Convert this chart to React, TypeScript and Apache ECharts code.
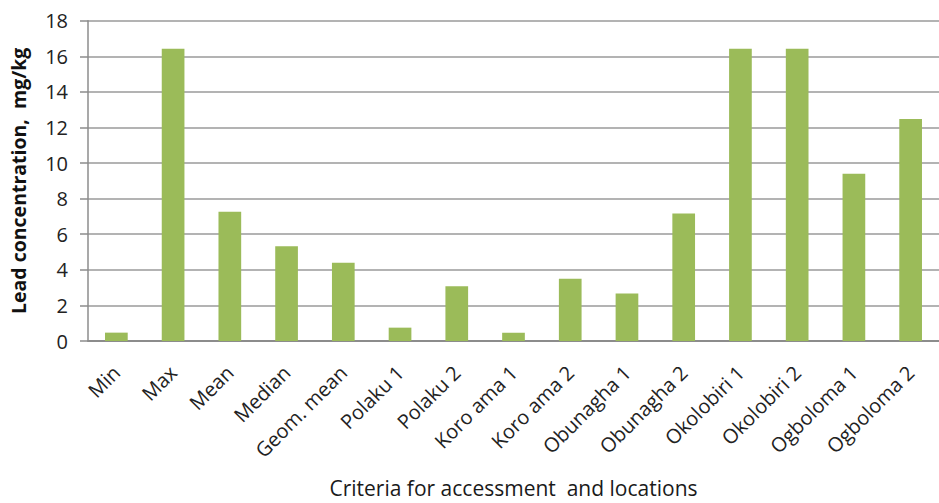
import React, { useEffect, useRef } from "react";
import * as echarts from "echarts";

const categories = [
  "Min",
  "Max",
  "Mean",
  "Median",
  "Geom. mean",
  "Polaku 1",
  "Polaku 2",
  "Koro ama 1",
  "Koro ama 2",
  "Obunagha 1",
  "Obunagha 2",
  "Okolobiri 1",
  "Okolobiri 2",
  "Ogboloma 1",
  "Ogboloma 2",
];

const leadValues = [
  0.47, 16.42, 7.26, 5.33, 4.4, 0.75, 3.08, 0.47, 3.5, 2.67, 7.16, 16.42,
  16.42, 9.4, 12.47,
];

const yTicks = { min: 0, max: 18, interval: 2 };

const FONT = "'Open Sans', 'Liberation Sans', sans-serif";

export default function App() {
  const ref = useRef<HTMLDivElement>(null);

  useEffect(() => {
    document.body.style.margin = "0";
    if (!ref.current) return;
    const chart = echarts.init(ref.current, undefined, { renderer: "svg" });
    chart.setOption({
      animation: false,
      backgroundColor: "#ffffff",
      textStyle: { fontFamily: FONT },
      grid: { left: 87, top: 20.7, width: 862.5, height: 321 },
      xAxis: {
        type: "category",
        data: categories,
        name: "Criteria for accessment  and locations",
        nameLocation: "middle",
        nameGap: 136,
        nameTextStyle: {
          fontFamily: FONT,
          fontSize: 21,
          color: "#1a1a1a",
          fontWeight: 500,
        },
        axisLine: { show: true, lineStyle: { color: "#8c8c8c", width: 2 } },
        axisTick: { show: false },
        axisLabel: {
          interval: 0,
          rotate: 45,
          margin: 28,
          fontFamily: FONT,
          fontSize: 20,
          color: "#222222",
        },
      },
      yAxis: {
        type: "value",
        min: yTicks.min,
        max: yTicks.max,
        interval: yTicks.interval,
        name: "Lead concentration,  mg/kg",
        nameLocation: "middle",
        nameGap: 60,
        nameTextStyle: {
          fontFamily: FONT,
          fontSize: 19.5,
          fontWeight: "bold",
          color: "#111111",
        },
        axisLine: { show: true, lineStyle: { color: "#8c8c8c", width: 1.5 } },
        axisTick: {
          show: true,
          inside: false,
          length: 8,
          lineStyle: { color: "#8c8c8c", width: 1.5 },
        },
        axisLabel: {
          margin: 20,
          fontFamily: FONT,
          fontSize: 20,
          color: "#222222",
        },
        splitLine: { show: true, lineStyle: { color: "#9a9a9a", width: 1.5 } },
      },
      series: [
        {
          type: "bar",
          data: leadValues,
          barWidth: "40%",
          itemStyle: { color: "#9bbb59" },
        },
      ],
    });
    return () => chart.dispose();
  }, []);

  return <div ref={ref} style={{ width: 939, height: 503 }} />;
}
